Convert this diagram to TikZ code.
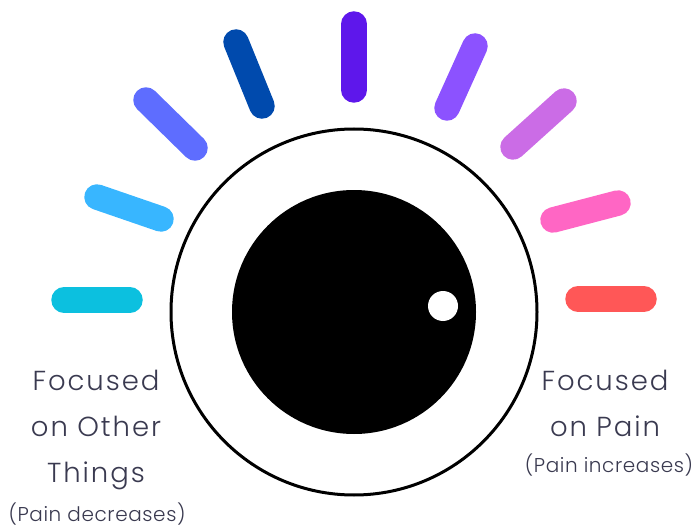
\documentclass[tikz,border=0pt]{standalone}
\usepackage{fontspec}
\setmainfont{Poppins}[UprightFont=* Light]
\definecolor{inktext}{HTML}{3A3A50}
\definecolor{rayA}{HTML}{0CC0DF}
\definecolor{rayB}{HTML}{38B6FF}
\definecolor{rayC}{HTML}{5E6DFF}
\definecolor{rayD}{HTML}{004AAD}
\definecolor{rayE}{HTML}{5E17EB}
\definecolor{rayF}{HTML}{8C52FF}
\definecolor{rayG}{HTML}{CB6CE6}
\definecolor{rayH}{HTML}{FF66C4}
\definecolor{rayI}{HTML}{FF5757}
\begin{document}
\begin{tikzpicture}[
  x=1pt, y=-1pt,
  ray/.style={line width=25.5pt, line cap=round},
  big/.style={font=\fontsize{27.5}{46}\selectfont\addfontfeatures{LetterSpace=7}, text=inktext, align=center, inner sep=0pt},
  small/.style={font=\fontsize{20}{24}\selectfont\addfontfeatures{LetterSpace=3}, text=inktext, align=center, inner sep=0pt}
]
\useasboundingbox (0,0) rectangle (697,527);
\draw[ray, rayA] (64,300) -- (130,300);
\draw[ray, rayB] (97,197) -- (161,219);
\draw[ray, rayC] (146,100) -- (195,148);
\draw[ray, rayD] (236,42) -- (262,106);
\draw[ray, rayE] (354,24) -- (354,90);
\draw[ray, rayF] (475,46) -- (447,108);
\draw[ray, rayG] (564,101) -- (513,147);
\draw[ray, rayH] (618,203) -- (553,220);
\draw[ray, rayI] (578,299) -- (644,299);
\draw[line width=3pt] (354,312) circle (183);
\fill (354,312) circle (122);
\fill[white] (443,306) circle (15);
\node[big] (left) at (96,430) {Focused\\on Other\\Things};
\node[small] (leftsub) at (97,514) {(Pain decreases)};
\node[big] (right) at (605,403) {Focused\\on Pain};
\node[small] (rightsub) at (609,465) {(Pain increases)};
\end{tikzpicture}
\end{document}
